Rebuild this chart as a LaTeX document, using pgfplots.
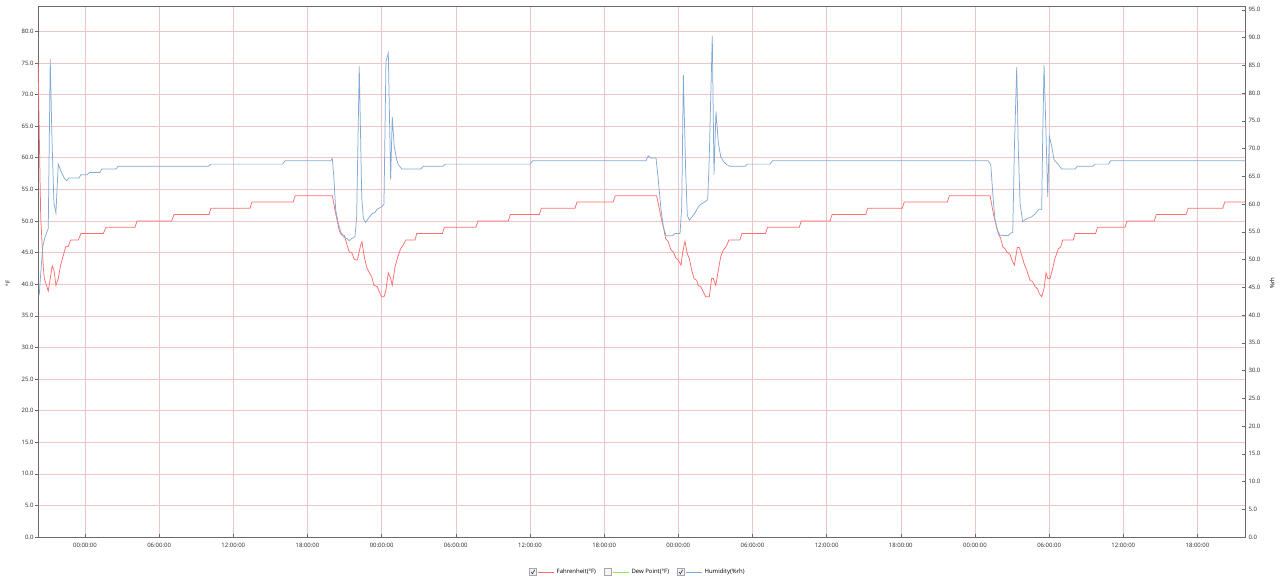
\documentclass[border=0pt]{standalone}
\usepackage{pgfplots}
\pgfplotsset{compat=1.18}
\usepackage{fontspec}
\setmainfont{Open Sans}

\definecolor{tred}{RGB}{252,110,110}
\definecolor{tblue}{RGB}{130,170,212}
\definecolor{tgreen}{RGB}{150,230,90}
\definecolor{gridc}{RGB}{238,198,198}
\definecolor{axc}{RGB}{105,105,105}

\pgfplotsset{
  chk/.style={legend image code/.code={
    \draw[draw=gray!70, fill=blue!6, solid, line width=0.4pt] (0bp,-3.5bp) rectangle (7bp,3.5bp);
    \draw[black!80, line width=0.6pt, solid] (1.8bp,0bp) -- (3.2bp,-1.8bp) -- (5.4bp,2.2bp);
    \draw[draw=#1, line width=0.8pt, solid] (9bp,0bp) -- (25bp,0bp);
  }},
  unchk/.style={legend image code/.code={
    \draw[draw=gray!70, fill=gray!8, solid, line width=0.4pt] (0bp,-3.5bp) rectangle (7bp,3.5bp);
    \draw[draw=#1, line width=0.8pt, solid] (9bp,0bp) -- (25bp,0bp);
  }},
  base/.style={
    scale only axis, width=1207bp, height=531bp,
    at={(0,0)}, anchor=south west,
    xmin=-3.80, xmax=93.85,
    ymin=0,
    tick align=inside, major tick length=3bp,
    every tick/.style={axc, line width=0.5pt},
    tick label style={font=\fontsize{6}{7}\selectfont, text=black!85},
    /pgf/number format/assume math mode=true,
    /pgf/number format/.cd, fixed, fixed zerofill, precision=1,
  },
}

\begin{document}
\begin{tikzpicture}
\begin{axis}[base,
  ymax=84,
  axis line style={axc, line width=0.6pt},
  xtick={0,6,...,90},
  xticklabels={00:00:00,06:00:00,12:00:00,18:00:00,00:00:00,06:00:00,12:00:00,18:00:00,00:00:00,06:00:00,12:00:00,18:00:00,00:00:00,06:00:00,12:00:00,18:00:00},
  xticklabel style={yshift=-3bp},
  xtick pos=bottom,
  ytick={0,5,...,80},
  ytick pos=left,
  ytick style={xshift=-3bp},
  yticklabel style={xshift=-1bp},
  grid=major,
  major grid style={gridc, line width=0.5pt},
  ylabel={°F},
  ylabel style={at={(axis description cs:-0.0249,0.478)}, anchor=center, font=\fontsize{6}{7}\selectfont},
  legend columns=3,
  legend style={at={(axis description cs:0.497,0)}, anchor=center, yshift=-35bp,
    draw=none, fill=none, font=\fontsize{6}{7}\selectfont,
    /tikz/every even column/.append style={column sep=6bp}},
  legend cell align=left,
]
\addlegendimage{chk=tred}
\addlegendentry{Fahrenheit(°F)}
\addlegendimage{unchk=tgreen}
\addlegendentry{Dew Point(°F)}
\addlegendimage{chk=tblue}
\addlegendentry{Humidity(\%rh)}

\addplot[tred, line width=0.75pt, no markers, forget plot] coordinates {
(-3.80,75.4) (-3.58,50.6) (-3.37,42.7) (-3.29,40.9) (-2.97,38.9) (-2.65,42.9)
(-2.51,42.2) (-2.35,39.8) (-2.16,40.9) (-1.97,43.0) (-1.56,45.9) (-1.35,46.0)
(-1.16,47) (-0.54,47) (-0.32,48) (1.48,48) (1.70,49) (4.05,49) (4.21,50)
(7.01,50) (7.20,51) (10.03,51) (10.19,52) (13.35,52) (13.51,53) (16.85,53)
(17.01,54) (20.01,54)
(20.23,51.7) (20.57,48.5) (20.71,47.9) (20.98,47.7) (21.17,46.4) (21.38,45.1)
(21.58,45.0) (21.79,43.9) (22.03,43.8) (22.31,46.2) (22.41,46.7) (22.60,44.3)
(22.79,42.7) (23.00,41.8) (23.20,41.2) (23.38,39.8) (23.65,39.6) (23.81,38.8)
(24.00,38.0) (24.19,38.0) (24.35,39.1) (24.54,41.8) (24.73,40.9) (24.86,39.8)
(25.08,42.7) (25.30,44.3) (25.54,45.6) (25.75,46.2) (25.95,47) (26.70,47)
(26.84,48) (28.92,48) (29.07,49) (31.63,49) (31.79,50) (34.25,50) (34.41,51)
(36.76,51) (36.92,52) (39.64,52) (39.81,53) (42.74,53) (42.90,54) (46.24,54)
(46.38,52.8) (46.60,50.6) (46.79,49.1) (46.98,47.2) (47.19,46.7) (47.41,45.4)
(47.60,45.1) (47.82,44.1) (48.00,43.8) (48.22,43.0) (48.36,45.1) (48.54,46.8)
(48.73,44.8) (48.89,44.1) (49.09,42.2) (49.27,40.9) (49.49,40.6) (49.62,39.8)
(49.81,39.6) (50.02,38.8) (50.22,38.0) (50.51,38.0) (50.70,40.9) (50.83,40.9)
(51.03,39.8) (51.24,42.2) (51.43,44.3) (51.64,45.4) (51.86,45.9) (52.10,47)
(52.99,47) (53.15,48) (55.06,48) (55.22,49) (57.79,49) (57.95,50) (60.28,50)
(60.44,51) (63.16,51) (63.32,52) (66.12,52) (66.28,53) (69.77,53) (69.93,54)
(73.22,54)
(73.49,51.2) (73.68,49.6) (73.89,48.0) (74.09,47.2) (74.25,45.9) (74.43,45.6)
(74.62,45.0) (74.84,44.7) (75.00,43.8) (75.19,43.0) (75.43,45.8) (75.59,45.8)
(75.78,44.6) (75.97,43.3) (76.19,42.2) (76.46,40.6) (76.67,40.4) (76.86,39.6)
(77.05,39.3) (77.21,38.5) (77.40,38.0) (77.59,39.3) (77.75,41.8) (77.89,40.9)
(78.07,40.9) (78.26,42.2) (78.48,44.1) (78.75,45.6) (78.94,45.9) (79.10,47)
(79.96,47) (80.10,48) (81.76,48) (81.92,49) (84.14,49) (84.30,50) (86.51,50)
(86.67,51) (89.08,51) (89.24,52) (92.05,52) (92.21,53) (93.85,53)
};
\end{axis}

\begin{axis}[base,
  ymax=95.7,
  axis x line=none,
  axis y line*=right,
  axis line style={axc, line width=0.6pt},
  ytick={0,5,...,95},
  yticklabel style={xshift=0bp},
  ylabel={\%rh},
  ylabel style={at={(axis description cs:1.0224,0.478)}, anchor=center, font=\fontsize{6}{7}\selectfont},
]
\addplot[tblue, line width=0.75pt, no markers] coordinates {
(-3.70,43.6) (-3.58,47.5) (-3.42,52.3) (-3.24,54.0) (-2.97,55.6) (-2.81,86.1)
(-2.67,71.6) (-2.51,60.2) (-2.35,58.4) (-2.16,67.2) (-1.89,65.6) (-1.67,64.7)
(-1.48,64.2) (-1.29,64.7) (-0.49,64.7) (-0.32,65.3) (0.19,65.3) (0.35,65.7)
(1.21,65.7) (1.35,66.3) (2.51,66.3) (2.67,66.8) (9.98,66.8) (10.17,67.2)
(15.99,67.2) (16.18,67.8) (19.88,67.8) (20.01,68.2)
(20.15,64.4) (20.28,59.0) (20.49,56.6) (20.69,55.0) (20.90,54.1) (21.17,53.8)
(21.38,53.4) (21.58,53.8) (21.84,54.1) (21.98,57.7) (22.19,84.8) (22.39,61.3)
(22.52,57.4) (22.71,56.7) (22.92,57.4) (23.20,58.2) (23.46,58.5) (23.65,59.1)
(24.00,59.5) (24.19,60.0) (24.35,85.7) (24.54,87.2) (24.73,64.4) (24.86,75.7)
(25.02,70.4) (25.22,68.0) (25.35,67.1) (25.65,66.3) (27.16,66.3) (27.37,66.8)
(28.94,66.8) (29.17,67.2) (36.00,67.2) (36.22,67.8) (45.39,67.8) (45.57,68.7)
(45.77,68.3) (46.20,68.3)
(46.38,64.4) (46.60,59.0) (46.79,55.9) (47.01,54.3) (47.55,54.3) (47.73,54.7)
(48.14,54.7) (48.28,59.5) (48.41,83.3) (48.60,65.6) (48.73,58.0) (48.89,57.1)
(49.09,57.6) (49.35,58.4) (49.54,59.2) (49.76,59.9) (50.02,60.2) (50.38,60.8)
(50.49,67.1) (50.75,90.3) (50.89,65.3) (51.05,76.7) (51.24,71.0) (51.43,68.6)
(51.64,67.7) (51.92,67.1) (52.18,66.8) (53.40,66.8) (53.58,67.2) (55.42,67.2)
(55.62,67.8) (73.06,67.8)
(73.28,67.1) (73.44,62.0) (73.62,57.2) (73.81,55.3) (74.03,54.4) (74.70,54.3)
(74.84,54.7) (75.06,54.9) (75.19,69.8) (75.38,84.7) (75.51,69.8) (75.65,60.2)
(75.86,56.8) (76.05,57.2) (76.32,57.5) (76.59,57.7) (76.94,58.4) (77.13,59.0)
(77.40,59.0) (77.48,71.6) (77.59,85.1) (77.75,72.8) (77.89,61.3) (78.02,72.2)
(78.21,70.4) (78.40,68.0) (78.75,67.1) (79.02,66.3) (80.10,66.3) (80.28,66.8)
(81.52,66.8) (81.72,67.2) (82.80,67.2) (82.98,67.8) (93.85,67.8)
};
\end{axis}
\pgfresetboundingbox
\path[use as bounding box] (-38bp,-45bp) rectangle (1242bp,537bp);
\end{tikzpicture}
\end{document}
